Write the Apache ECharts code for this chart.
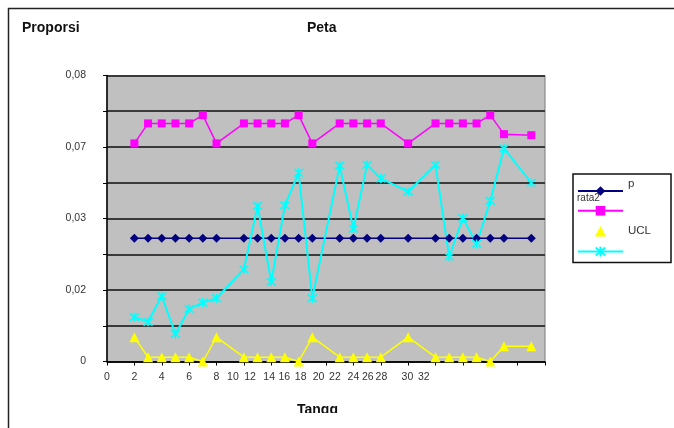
<!DOCTYPE html>
<html>
<head>
<meta charset="utf-8">
<script src="https://cdn.jsdelivr.net/npm/echarts@6/dist/echarts.min.js"></script>
<style>
  html, body { margin: 0; padding: 0; background: #fff; }
  #chart { width: 674px; height: 428px; }
</style>
</head>
<body>
<div id="chart"></div>
<script>
// Sample days (x positions on the day axis)
const days = [2, 3, 4, 5, 6, 7, 8, 10, 11, 12, 13, 14, 15, 17, 18, 19, 20, 22, 24, 25, 26, 27, 28, 29, 31];

// Proportion p (constant centre line)
const pValues = [0.0345, 0.0345, 0.0345, 0.0345, 0.0345, 0.0345, 0.0345, 0.0345, 0.0345, 0.0345,
                 0.0345, 0.0345, 0.0345, 0.0345, 0.0345, 0.0345, 0.0345, 0.0345, 0.0345, 0.0345,
                 0.0345, 0.0345, 0.0345, 0.0345, 0.0345];

// rata2 (average)
const rata2Values = [0.0610, 0.0666, 0.0666, 0.0666, 0.0666, 0.0689, 0.0610, 0.0666, 0.0666, 0.0666,
                     0.0666, 0.0689, 0.0610, 0.0666, 0.0666, 0.0666, 0.0666, 0.0610, 0.0666, 0.0666,
                     0.0666, 0.0666, 0.0689, 0.0636, 0.0633];

// UCL
const uclValues = [0.0068, 0.0012, 0.0012, 0.0012, 0.0012, 0.0000, 0.0068, 0.0012, 0.0012, 0.0012,
                   0.0012, 0.0000, 0.0068, 0.0012, 0.0012, 0.0012, 0.0012, 0.0068, 0.0012, 0.0012,
                   0.0012, 0.0012, 0.0000, 0.0043, 0.0043];

// Fourth series (cyan, unlabelled in the legend)
const lclValues = [0.0124, 0.0111, 0.0183, 0.0077, 0.0147, 0.0165, 0.0177, 0.0258, 0.0435, 0.0223,
                   0.0437, 0.0528, 0.0177, 0.0548, 0.0371, 0.0550, 0.0512, 0.0475, 0.0550, 0.0293,
                   0.0401, 0.0329, 0.0449, 0.0596, 0.0500];

// Axis tick labels
const xTickText = ['0', '2', '4', '6', '8', '10', '12', '14', '16', '18', '20', '22', '24', '26', '28', '30', '32'];
const yTickText = ['0', '0,02', '0,03', '0,07', '0,08'];

// Where the day labels sit along the axis
const xLabelAt = [0, 2, 4, 6, 8, 9.2, 10.45, 11.85, 12.95, 14.15, 15.45, 16.65, 18, 19.05, 20.05, 21.95, 23.15];

const pairs = vals => days.map((d, i) => [d, vals[i]]);

// asterisk-style marker (X with a vertical bar)
const starSymbol = 'path://M0,0L10,10M10,0L0,10M5,-1L5,11';
// lone triangle centred in a 45x12 legend slot (tiny corner specks keep the slot size)
const legendTriangle = 'path://M0,0L0.01,0L0,0.01Z M45,12L44.99,12L45,11.99Z M17,12L22.5,1.5L28,12Z';

const chart = echarts.init(document.getElementById('chart'), null, { renderer: 'canvas' });

const fontFamily = 'Liberation Sans, Arial, sans-serif';
const labelFont = { fontFamily, fontSize: 10.5, color: '#333' };

chart.setOption({
  animation: false,
  backgroundColor: '#fff',
  title: [
    { text: 'Peta', left: 307, top: 21, padding: 0,
      textStyle: { fontFamily, fontSize: 14, fontWeight: 'bold', color: '#111' } },
    { text: 'Proporsi', left: 22, top: 21, padding: 0,
      textStyle: { fontFamily, fontSize: 14, fontWeight: 'bold', color: '#111' } }
  ],
  grid: {
    left: 107, right: 129, top: 75.5, bottom: 66.5,
    show: true, backgroundColor: '#c0c0c0', borderColor: '#7a7a7a', borderWidth: 1
  },
  legend: {
    orient: 'vertical',
    left: 573, top: 174,
    padding: [4, 20, 5, 4],
    borderColor: '#111', borderWidth: 1.5,
    itemWidth: 45, itemHeight: 12, itemGap: 9,
    textStyle: { fontFamily, fontSize: 11.5, color: '#333',
                 rich: { up: { padding: [0, 0, 14, 0], fontSize: 11.5, color: '#333' } } },
    data: [
      { name: 'p' },
      { name: 'rata2' },
      { name: 'UCL', icon: legendTriangle },
      { name: 'LCL' }
    ],
    formatter: name => name === 'p' ? '{up|p}' : (name === 'UCL' ? 'UCL' : '')
  },
  xAxis: {
    type: 'value', min: 0, max: 32, interval: 2,
    axisLine: { show: true, onZero: false, lineStyle: { color: '#000', width: 1.5 } },
    axisTick: { show: true, length: 4, customValues: [0, 2, 4, 6, 8, 10, 12, 14, 16, 18, 20, 22, 24, 26, 28, 30, 32],
                lineStyle: { color: '#000', width: 1 } },
    splitLine: { show: false },
    axisLabel: {
      ...labelFont, margin: 10,
      customValues: xLabelAt,
      formatter: v => {
        let best = 0;
        xLabelAt.forEach((p, i) => { if (Math.abs(p - v) < Math.abs(xLabelAt[best] - v)) best = i; });
        return xTickText[best];
      }
    }
  },
  yAxis: {
    type: 'value', min: 0, max: 0.08, interval: 0.01,
    axisLine: { show: true, lineStyle: { color: '#000', width: 1.5 } },
    axisTick: { show: true, length: 4, customValues: [0, 0.01, 0.02, 0.03, 0.04, 0.05, 0.06, 0.07, 0.08],
                lineStyle: { color: '#000', width: 1 } },
    splitLine: { show: true, lineStyle: { color: '#3a3a3a', width: 2 } },
    axisLabel: {
      ...labelFont, margin: 21,
      customValues: [0, 0.02, 0.04, 0.06, 0.08],
      formatter: v => yTickText[Math.round(v / 0.02)]
    }
  },
  graphic: [
    // outer chart frame
    { type: 'polyline', z: 100, silent: true,
      shape: { points: [[8.5, 440], [8.5, 8.5], [680, 8.5]] },
      style: { stroke: '#222', lineWidth: 1.5, fill: null } },
    // axis title, cut off at the bottom of the frame
    { type: 'text', left: 297, top: 403, z: 100, silent: true,
      style: { text: 'Tangg', fontFamily, fontSize: 14, fontWeight: 'bold', fill: '#111' } },
    { type: 'rect', z: 101, silent: true, shape: { x: 20, y: 413, width: 660, height: 20 },
      style: { fill: '#fff' } },
    // legend caption for the average series
    { type: 'text', left: 577, top: 193, z: 100, silent: true,
      style: { text: 'rata2', fontFamily, fontSize: 10, fill: '#333' } }
  ],
  series: [
    {
      name: 'p', type: 'line', data: pairs(pValues),
      symbol: 'diamond', symbolSize: 9,
      itemStyle: { color: '#000080' },
      lineStyle: { color: '#000080', width: 1.5 }
    },
    {
      name: 'rata2', type: 'line', data: pairs(rata2Values),
      symbol: 'rect', symbolSize: 8,
      itemStyle: { color: '#ff00ff' },
      lineStyle: { color: '#ff00ff', width: 1.5 }
    },
    {
      name: 'UCL', type: 'line', data: pairs(uclValues),
      symbol: 'triangle', symbolSize: 10,
      itemStyle: { color: '#ffff00' },
      lineStyle: { color: '#ffff00', width: 1.5 }
    },
    {
      name: 'LCL', type: 'line', data: pairs(lclValues),
      symbol: starSymbol, symbolSize: 9,
      itemStyle: { color: '#00ffff', borderColor: '#00ffff', borderWidth: 1.6 },
      lineStyle: { color: '#00ffff', width: 2 }
    }
  ]
});
</script>
</body>
</html>
